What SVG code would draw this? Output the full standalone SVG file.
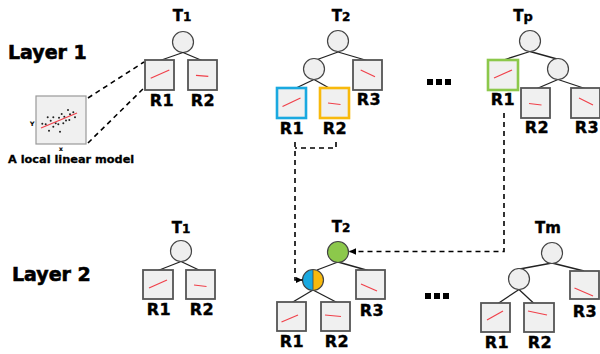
<svg xmlns="http://www.w3.org/2000/svg" width="600" height="354" viewBox="0 0 600 354">
<defs>
<style>
text{font-family:"DejaVu Sans","Liberation Sans",sans-serif;font-weight:bold;fill:#000;stroke:#000;stroke-width:0.4}
.layer{font-size:19px;stroke-width:0.6}
.t{font-size:15px;text-anchor:middle}
.sub{font-size:12px}
.r{font-size:16px;text-anchor:middle;letter-spacing:0.5px}
.box{fill:#f0f0f0;stroke:#555;stroke-width:1.8}
.blue{fill:#f0f0f0;stroke:#1aa9e0;stroke-width:2.6}
.orange{fill:#f0f0f0;stroke:#f8b90c;stroke-width:2.6}
.green{fill:#f0f0f0;stroke:#8cc84b;stroke-width:2.6}
.node{fill:#efefef;stroke:#444;stroke-width:1.2}
.fit{stroke:#f0404a;stroke-width:1.2;fill:none}
.edge{stroke:#222;stroke-width:1.3;fill:none}
.dash{stroke:#000;stroke-width:1.6;fill:none;stroke-dasharray:5 4}
.dot{fill:#222}
</style>
<marker id="arr" markerUnits="userSpaceOnUse" markerWidth="8" markerHeight="8" refX="7" refY="4" orient="auto">
<path d="M0,0.8 L7,4 L0,7.2 Z" fill="#000"/>
</marker>
</defs>

<text class="layer" x="8" y="59">Layer 1</text>
<text class="layer" x="12" y="281">Layer 2</text>

<g id="local-model">
<rect x="36" y="96" width="50" height="48" fill="#f0f0f0" stroke="#999" stroke-width="1.2"/>
<g class="dot">
<circle cx="42.3" cy="123.7" r="1"/><circle cx="47.7" cy="117.3" r="1"/><circle cx="53.3" cy="117.3" r="1"/>
<circle cx="50.7" cy="120.7" r="1"/><circle cx="49" cy="130.7" r="1"/><circle cx="53.3" cy="126.7" r="1"/>
<circle cx="55.7" cy="123.3" r="1"/><circle cx="59" cy="117.7" r="1"/><circle cx="61.7" cy="114" r="1"/>
<circle cx="64.3" cy="116.7" r="1"/><circle cx="68" cy="110" r="1"/><circle cx="70" cy="114.3" r="1"/>
<circle cx="73.3" cy="112.3" r="1"/><circle cx="75" cy="117.3" r="1"/><circle cx="63.3" cy="123.3" r="1"/>
<circle cx="60" cy="131.7" r="1"/><circle cx="58.3" cy="124.3" r="1"/><circle cx="45.7" cy="124.3" r="1"/>
<circle cx="69.3" cy="120" r="1"/><circle cx="66" cy="120.5" r="1"/>
</g>
<line class="fit" x1="41" y1="128" x2="77" y2="113"/>
<text x="30" y="126" style="font-size:6px;stroke-width:0.2">Y</text>
<text x="59" y="151" style="font-size:6px;stroke-width:0.2">x</text>
<text x="8" y="163" style="font-size:11.3px;stroke-width:0.3">A local linear model</text>
</g>

<!-- Layer 1 T1 -->
<g id="l1-t1">
<text class="t" x="182" y="21">T<tspan class="sub">1</tspan></text>
<circle class="node" cx="183" cy="42" r="10.5"/>
<line class="edge" x1="183" y1="52.5" x2="160" y2="60.5"/>
<line class="edge" x1="183" y1="52.5" x2="202" y2="60.5"/>
<rect class="box" x="145" y="60" width="29" height="30"/>
<line class="fit" x1="150.7" y1="78.3" x2="169.3" y2="70"/>
<text class="r" x="162" y="106">R1</text>
<rect class="box" x="188" y="60" width="29" height="30"/>
<line class="fit" x1="196" y1="75.3" x2="208.3" y2="76.3"/>
<text class="r" x="203" y="106">R2</text>
</g>

<!-- Layer 1 T2 -->
<g id="l1-t2">
<text class="t" x="341" y="21">T<tspan class="sub">2</tspan></text>
<line class="edge" x1="338" y1="52" x2="316" y2="60"/>
<line class="edge" x1="338" y1="52" x2="367" y2="60.5"/>
<line class="edge" x1="314" y1="79.5" x2="295" y2="88.5"/>
<line class="edge" x1="314" y1="79.5" x2="330" y2="88.5"/>
<circle class="node" cx="338" cy="41" r="10.5"/>
<circle class="node" cx="314" cy="69" r="10.5"/>
<rect class="box" x="353" y="60" width="29" height="30"/>
<line class="fit" x1="360.7" y1="70" x2="375" y2="76.7"/>
<text class="r" x="369" y="105">R3</text>
<rect class="blue" x="277" y="88" width="29" height="30"/>
<line class="fit" x1="282.5" y1="106.5" x2="300.5" y2="98"/>
<text class="r" x="292" y="134">R1</text>
<rect class="orange" x="320" y="88" width="29" height="30"/>
<line class="fit" x1="328" y1="103" x2="340.5" y2="104.5"/>
<text class="r" x="335" y="134">R2</text>
</g>

<!-- Layer 1 Tp -->
<g id="l1-tp">
<text class="t" x="523" y="21">T<tspan style="font-size:13px">p</tspan></text>
<line class="edge" x1="530" y1="51.5" x2="505" y2="59.5"/>
<line class="edge" x1="530" y1="51.5" x2="557" y2="59"/>
<line class="edge" x1="558" y1="79.5" x2="537" y2="88.5"/>
<line class="edge" x1="558" y1="79.5" x2="585" y2="88.5"/>
<circle class="node" cx="530" cy="41" r="10.5"/>
<circle class="node" cx="558" cy="69" r="10.5"/>
<rect class="green" x="488" y="60" width="30" height="30"/>
<line class="fit" x1="494" y1="78" x2="512" y2="70"/>
<text class="r" x="503" y="105">R1</text>
<rect class="box" x="521" y="88" width="29" height="30"/>
<line class="fit" x1="529" y1="103.5" x2="541.5" y2="105"/>
<text class="r" x="537" y="133">R2</text>
<rect class="box" x="571" y="88" width="29" height="30"/>
<line class="fit" x1="579" y1="98" x2="593" y2="105"/>
<text class="r" x="587" y="133">R3</text>
</g>

<g id="ellipsis-1" fill="#000">
<rect x="427" y="79" width="6" height="6"/><rect x="436" y="79" width="6" height="6"/><rect x="445" y="79" width="6" height="6"/>
</g>

<!-- Layer 2 T1 -->
<g id="l2-t1">
<text class="t" x="181" y="233">T<tspan class="sub">1</tspan></text>
<line class="edge" x1="181" y1="261.5" x2="158" y2="270.5"/>
<line class="edge" x1="181" y1="261.5" x2="200" y2="270.5"/>
<circle class="node" cx="181" cy="251" r="10.5"/>
<rect class="box" x="143" y="270" width="30" height="29"/>
<line class="fit" x1="149" y1="288" x2="167" y2="280"/>
<text class="r" x="159" y="315">R1</text>
<rect class="box" x="186" y="270" width="29" height="29"/>
<line class="fit" x1="194" y1="285" x2="206.5" y2="286.5"/>
<text class="r" x="202" y="315">R2</text>
</g>

<!-- Layer 2 T2 -->
<g id="l2-t2">
<text class="t" x="341" y="232">T<tspan class="sub">2</tspan></text>
<line class="edge" x1="338" y1="262" x2="317" y2="270"/>
<line class="edge" x1="338" y1="262" x2="368" y2="270.5"/>
<line class="edge" x1="313" y1="290" x2="292" y2="302.5"/>
<line class="edge" x1="313" y1="290" x2="337" y2="302.5"/>
<circle cx="338" cy="252" r="10.5" fill="#8cc84b" stroke="#444" stroke-width="1.2"/>
<path d="M313,269.5 A10.5,10.5 0 0 0 313,290.5 Z" fill="#1aa9e0"/>
<path d="M313,269.5 A10.5,10.5 0 0 1 313,290.5 Z" fill="#f8b90c"/>
<circle cx="313" cy="280" r="10.5" fill="none" stroke="#444" stroke-width="1.2"/>
<line x1="313" y1="269.5" x2="313" y2="290.5" stroke="#444" stroke-width="0.8"/>
<rect class="box" x="356" y="270" width="29" height="29"/>
<line class="fit" x1="361" y1="284" x2="377" y2="291"/>
<text class="r" x="372" y="316">R3</text>
<rect class="box" x="277" y="302" width="29" height="29"/>
<line class="fit" x1="281.5" y1="322" x2="298" y2="315"/>
<text class="r" x="292" y="347">R1</text>
<rect class="box" x="321" y="302" width="29" height="29"/>
<line class="fit" x1="325" y1="315" x2="341" y2="316.5"/>
<text class="r" x="337" y="347">R2</text>
</g>

<g id="ellipsis-2" fill="#000">
<rect x="425" y="293" width="6" height="6"/><rect x="434" y="293" width="6" height="6"/><rect x="443" y="293" width="6" height="6"/>
</g>

<!-- Layer 2 Tm -->
<g id="l2-tm">
<text class="t" x="548" y="233">T<tspan>m</tspan></text>
<line class="edge" x1="552" y1="263" x2="517" y2="269.5"/>
<line class="edge" x1="552" y1="263" x2="584" y2="271"/>
<line class="edge" x1="519" y1="289.5" x2="498" y2="303.5"/>
<line class="edge" x1="519" y1="289.5" x2="534" y2="303.5"/>
<circle class="node" cx="552" cy="253" r="10.5"/>
<circle class="node" cx="519" cy="279" r="10.5"/>
<rect class="box" x="570" y="271" width="29" height="28"/>
<line class="fit" x1="574.5" y1="288" x2="593" y2="296"/>
<text class="r" x="585" y="317">R3</text>
<rect class="box" x="481" y="303" width="29" height="29"/>
<line class="fit" x1="487" y1="320" x2="503" y2="311"/>
<text class="r" x="497" y="348">R1</text>
<rect class="box" x="524" y="303" width="30" height="29"/>
<line class="fit" x1="528" y1="311" x2="547" y2="315"/>
<text class="r" x="540" y="348">R2</text>
</g>

<g id="connectors">
<line class="dash" x1="88" y1="98" x2="144" y2="62"/>
<line class="dash" x1="88" y1="143" x2="144" y2="88"/>
<path class="dash" d="M336,142 V148 H295"/>
<path class="dash" d="M295,142 V280 H302.5" marker-end="url(#arr)"/>
<path class="dash" d="M504,113 V251.5 H349" marker-end="url(#arr)"/>
</g>
</svg>
